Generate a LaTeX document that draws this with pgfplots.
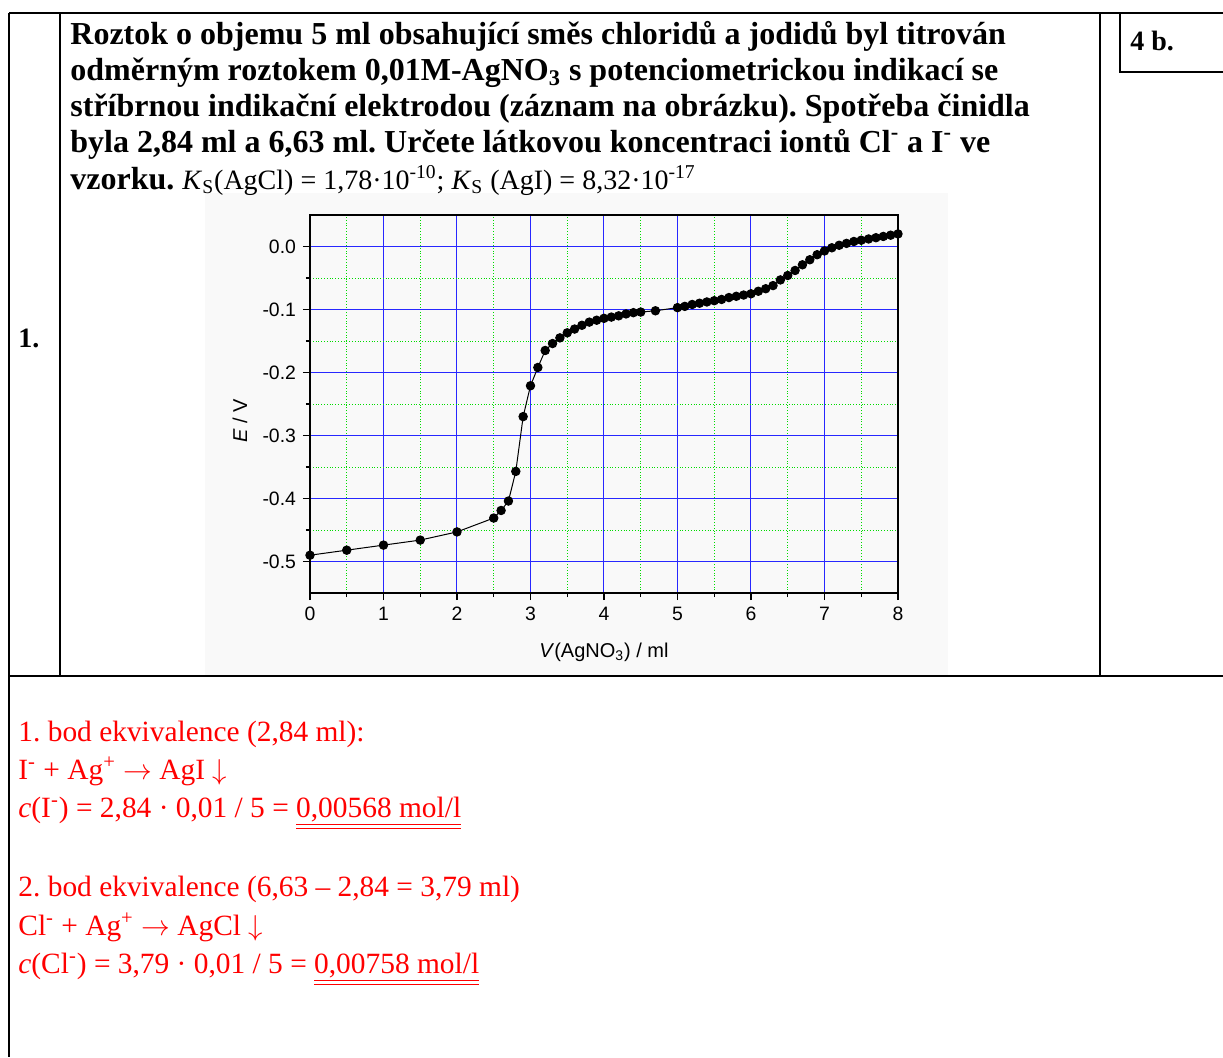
\documentclass[border=0pt]{standalone}
\usepackage{fontspec}
\setmainfont{Liberation Serif}
\newfontfamily\arial{Liberation Sans}
\usepackage{pgfplots}
\pgfplotsset{compat=1.18}
\definecolor{myred}{RGB}{255,0,0}
\definecolor{gridblue}{RGB}{40,40,255}
\definecolor{gridgreen}{RGB}{0,220,0}
\newcommand\tf{\fontsize{16}{19}\selectfont\bfseries}
\newcommand\smf{\fontsize{14}{17}\selectfont\bfseries}
\newcommand\rf{\fontsize{14.7}{17}\selectfont\color{myred}}
\frenchspacing
\begin{document}
\begin{tikzpicture}
\begin{scope}[x=0.5pt,y=-0.5pt]
\path[use as bounding box] (0,0) rectangle (1223,1057);
\fill[gray!5] (205,193) rectangle (948,675);
\begin{scope}[line width=1.4pt]
\draw (9,13) -- (1223,13);
\draw (9,13) -- (9,1057);
\draw (60,13) -- (60,676);
\draw (1100,13) -- (1100,676);
\draw (1120,13) -- (1120,72) -- (1223,72);
\draw (9,676) -- (1223,676);
\end{scope}
\begin{scope}[every node/.style={anchor=base west, inner sep=0pt}]
\node[font=\tf] at (70,44) {Roztok o objemu 5 ml obsahující směs chloridů a jodidů byl titrován};
\node[font=\tf] at (70,80) {odměrným roztokem 0,01M-AgNO\textsubscript{3} s potenciometrickou indikací se};
\node[font=\tf] at (70,116) {stříbrnou indikační elektrodou (záznam na obrázku). Spotřeba činidla};
\node[font=\tf] at (70,152) {byla 2,84 ml a 6,63 ml. Určete látkovou koncentraci iontů Cl\textsuperscript{-} a I\textsuperscript{-} ve};
\node[font=\tf] at (70,189) {vzorku. {\fontsize{14}{17}\selectfont\mdseries\textit{K}\textsubscript{S}(AgCl) = 1,78·10\textsuperscript{-10}; \textit{K}\textsubscript{S} (AgI) = 8,32·10\textsuperscript{-17}}};
\node[font=\smf] at (18,347) {1.};
\node[font=\smf] at (1130,50) {4 b.};
\node[font=\rf] at (18,741) {1. bod ekvivalence (2,84 ml):};
\node[font=\rf] at (18,779) {I\textsuperscript{-} + Ag\textsuperscript{+} $\rightarrow$ AgI $\downarrow$};
\node[font=\rf] at (18,817) {\textit{c}(I\textsuperscript{-}) = 2,84 · 0,01 / 5 = \underline{\underline{0,00568 mol/l}}};
\node[font=\rf] at (18,896) {2. bod ekvivalence (6,63 – 2,84 = 3,79 ml)};
\node[font=\rf] at (18,935) {Cl\textsuperscript{-} + Ag\textsuperscript{+} $\rightarrow$ AgCl $\downarrow$};
\node[font=\rf] at (18,973) {\textit{c}(Cl\textsuperscript{-}) = 3,79 · 0,01 / 5 = \underline{\underline{0,00758 mol/l}}};
\end{scope}
\end{scope}
\begin{axis}[
  at={(155pt,-296.5pt)}, anchor=south west,
  scale only axis, width=294pt, height=189pt,
  xmin=0, xmax=8, ymin=-0.55, ymax=0.05,
  xtick={0,1,2,3,4,5,6,7,8}, minor x tick num=1,
  ytick={-0.5,-0.4,-0.3,-0.2,-0.1,0}, minor y tick num=1,
  yticklabel style={/pgf/number format/.cd, fixed, fixed zerofill, precision=1},
  /pgf/number format/assume math mode=true,
  ticklabel style={font=\arial\fontsize{9.7}{11}\selectfont},
  grid=both,
  major grid style={gridblue, line width=0.5pt},
  minor grid style={gridgreen, densely dotted, line width=0.45pt},
  tick align=outside, xtick pos=bottom, ytick pos=left,
  major tick length=3.5pt, minor tick length=2pt,
  tick style={black, line width=0.6pt},
  axis line style={line width=0.9pt},
  xlabel={\textit{V}(AgNO\textsubscript{3}) / ml},
  ylabel={\textit{E} / V},
  label style={font=\arial\fontsize{10}{12}\selectfont},
  xlabel style={at={(axis description cs:0.5,-0.156)}, anchor=center},
  ylabel style={at={(axis description cs:-0.119,0.455)}, anchor=center},
]
\addplot[black, line width=0.5pt, mark=*, mark size=2.1pt, mark options={fill=black}] coordinates {
(0,-0.490) (0.5,-0.482) (1.0,-0.474) (1.5,-0.466) (2.0,-0.453) (2.5,-0.431)
(2.6,-0.419) (2.7,-0.404) (2.8,-0.357) (2.9,-0.270) (3.0,-0.221) (3.1,-0.192)
(3.2,-0.165) (3.3,-0.154) (3.4,-0.145) (3.5,-0.137) (3.6,-0.131) (3.7,-0.125)
(3.8,-0.120) (3.9,-0.117) (4.0,-0.114) (4.1,-0.112) (4.2,-0.110) (4.3,-0.107)
(4.4,-0.105) (4.5,-0.104) (4.7,-0.102) (5.0,-0.097) (5.1,-0.095) (5.2,-0.092)
(5.3,-0.090) (5.4,-0.088) (5.5,-0.086) (5.6,-0.084) (5.7,-0.081) (5.8,-0.079)
(5.9,-0.077) (6.0,-0.075) (6.1,-0.071) (6.2,-0.067) (6.3,-0.062) (6.4,-0.053)
(6.5,-0.046) (6.6,-0.038) (6.7,-0.029) (6.8,-0.021) (6.9,-0.013) (7.0,-0.007)
(7.1,-0.002) (7.2,0.002) (7.3,0.005) (7.4,0.008) (7.5,0.010) (7.6,0.012)
(7.7,0.014) (7.8,0.016) (7.9,0.018) (8.0,0.020)
};
\end{axis}
\end{tikzpicture}
\end{document}
